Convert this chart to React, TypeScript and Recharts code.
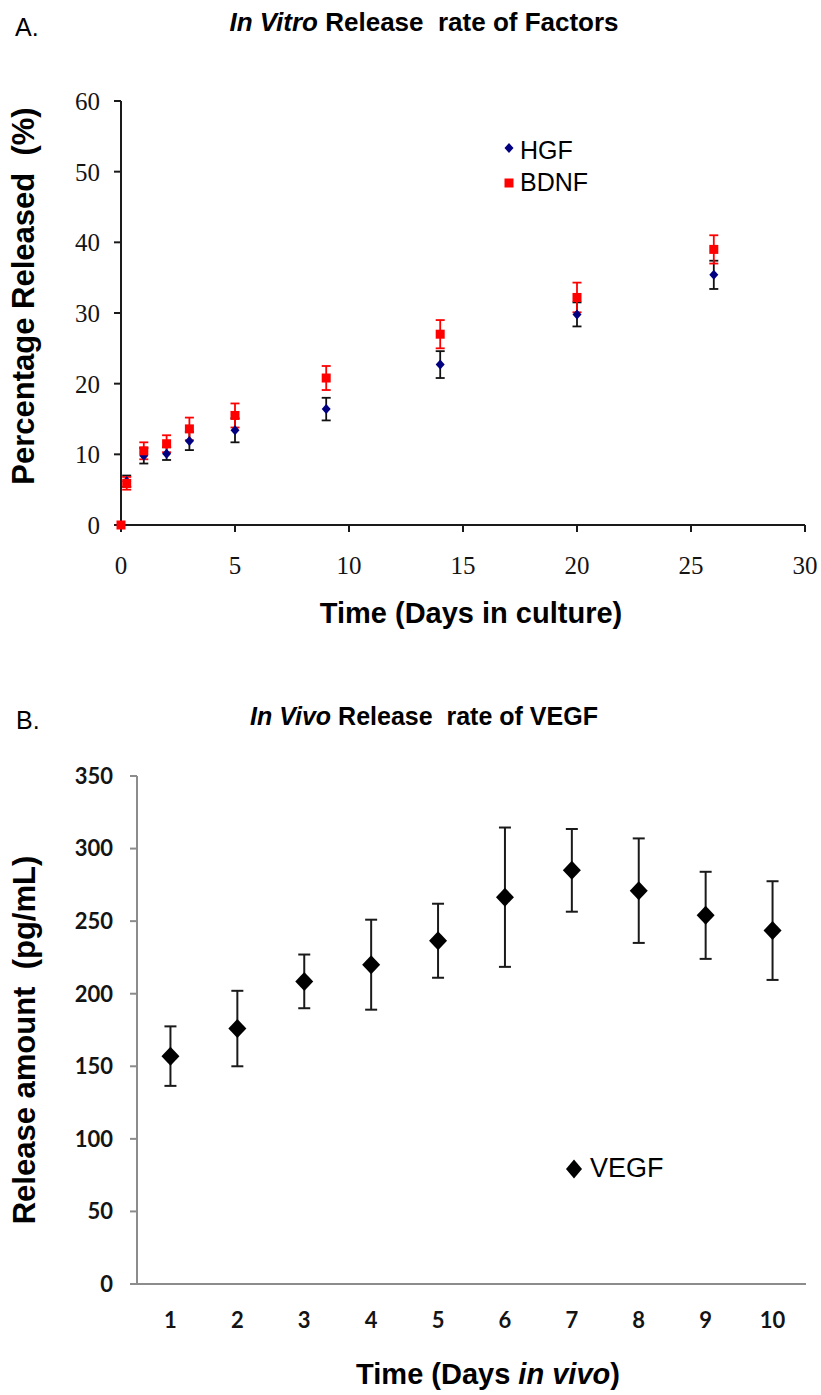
import React from 'react';
import { ScatterChart, Scatter, XAxis, YAxis, ErrorBar } from 'recharts';

// ---- Panel A: In Vitro release ----
const daysA = [0, 0.25, 1, 2, 3, 5, 9, 14, 20, 26];
const hgfValues = [0, 6.2, 9.8, 10.1, 11.9, 13.4, 16.4, 22.7, 29.8, 35.4];
const hgfErrors = [0, 0.8, 1.1, 0.9, 1.3, 1.7, 1.6, 1.9, 1.7, 2.0];
const bdnfValues = [0, 5.9, 10.5, 11.5, 13.6, 15.5, 20.8, 27.0, 32.2, 39.0];
const bdnfErrors = [0, 0.9, 1.2, 1.2, 1.6, 1.7, 1.7, 2.0, 2.1, 2.0];
const ticksAX = [0, 5, 10, 15, 20, 25, 30];
const ticksAY = [0, 10, 20, 30, 40, 50, 60];

// ---- Panel B: In Vivo release of VEGF ----
const daysB = [1, 2, 3, 4, 5, 6, 7, 8, 9, 10];
const vegfValues = [157, 176, 208.5, 220, 236.5, 266.5, 285, 271, 254, 243.5];
const vegfErrors = [20.5, 26, 18.5, 31, 25.5, 48, 28.5, 36, 30, 34];
const ticksBBoundaries = [0.5, 1.5, 2.5, 3.5, 4.5, 5.5, 6.5, 7.5, 8.5, 9.5, 10.5];
const ticksBLabels = [1, 2, 3, 4, 5, 6, 7, 8, 9, 10];
const ticksBY = [0, 50, 100, 150, 200, 250, 300, 350];

const hgfData = daysA.map((x, i) => ({ x, y: hgfValues[i], err: hgfErrors[i] }));
const bdnfData = daysA.map((x, i) => ({ x, y: bdnfValues[i], err: bdnfErrors[i] }));
const vegfData = daysB.map((x, i) => ({ x, y: vegfValues[i], err: vegfErrors[i] }));

const SANS = '"Liberation Sans", Arial, sans-serif';
const SERIF = '"Liberation Serif", "Times New Roman", serif';
const CAL = 'Lato, "Open Sans", sans-serif';

const HgfShape = (p: any) => {
  const { cx, cy } = p;
  if (cx == null || cy == null) return null;
  return (
    <polygon
      points={`${cx},${cy - 5} ${cx + 4.5},${cy} ${cx},${cy + 5} ${cx - 4.5},${cy}`}
      fill="#000080"
    />
  );
};

const BdnfShape = (p: any) => {
  const { cx, cy } = p;
  if (cx == null || cy == null) return null;
  return <rect x={cx - 4.5} y={cy - 4.5} width={9} height={9} fill="#ff0000" />;
};

const VegfShape = (p: any) => {
  const { cx, cy } = p;
  if (cx == null || cy == null) return null;
  return (
    <polygon
      points={`${cx},${cy - 9.5} ${cx + 9},${cy} ${cx},${cy + 9.5} ${cx - 9},${cy}`}
      fill="#000"
    />
  );
};

type TxtProps = {
  x: number;
  y: number;
  size: number;
  bold?: boolean;
  rotate?: boolean;
  anchor?: 'center' | 'left';
  children: React.ReactNode;
};

const Txt = ({ x, y, size, bold, rotate, anchor = 'center', children }: TxtProps) => (
  <div
    style={{
      position: 'absolute',
      left: x,
      top: y,
      transform: `translate(${anchor === 'center' ? '-50%' : '0'}, -50%)${rotate ? ' rotate(-90deg)' : ''}`,
      fontFamily: SANS,
      fontSize: size,
      fontWeight: bold ? 700 : 400,
      lineHeight: 1,
      whiteSpace: 'nowrap',
      color: '#000',
    }}
  >
    {children}
  </div>
);

export default function App() {
  return (
    <div
      style={{
        position: 'absolute',
        left: 0,
        top: 0,
        width: 821,
        height: 1395,
        background: '#fff',
        overflow: 'hidden',
      }}
    >
      {/* Panel A */}
      <div style={{ position: 'absolute', left: 0, top: 0 }}>
        <ScatterChart width={821} height={650} margin={{ top: 101, right: 16, bottom: 75, left: 0 }}>
          <XAxis
            type="number"
            dataKey="x"
            domain={[0, 30]}
            ticks={ticksAX}
            interval={0}
            height={50}
            tickSize={7}
            tickMargin={24}
            axisLine={{ stroke: '#1a1a1a', strokeWidth: 2 }}
            tickLine={{ stroke: '#1a1a1a', strokeWidth: 2 }}
            tick={{ fontFamily: SERIF, fontSize: 25, fill: '#141414' }}
          />
          <YAxis
            type="number"
            dataKey="y"
            domain={[0, 60]}
            ticks={ticksAY}
            interval={0}
            width={121}
            tickSize={7}
            tickMargin={14}
            axisLine={{ stroke: '#1a1a1a', strokeWidth: 2 }}
            tickLine={{ stroke: '#1a1a1a', strokeWidth: 2 }}
            tick={{ fontFamily: SERIF, fontSize: 25, fill: '#141414' }}
          />
          <Scatter name="HGF" data={hgfData} shape={HgfShape} isAnimationActive={false}>
            <ErrorBar dataKey="err" direction="y" width={4.5} stroke="#111" strokeWidth={1.8} />
          </Scatter>
          <Scatter name="BDNF" data={bdnfData} shape={BdnfShape} isAnimationActive={false}>
            <ErrorBar dataKey="err" direction="y" width={4.5} stroke="#ff0000" strokeWidth={1.8} />
          </Scatter>
        </ScatterChart>
      </div>

      <Txt x={15} y={27} size={25} anchor="left">A.</Txt>
      <Txt x={424} y={22} size={26} bold>
        <i>In Vitro</i> Release&nbsp; rate of Factors
      </Txt>
      <Txt x={23} y={296} size={31} bold rotate>
        Percentage Released&nbsp; (%)
      </Txt>
      <Txt x={471} y={613} size={29} bold>
        Time (Days in culture)
      </Txt>

      {/* Legend A */}
      <svg style={{ position: 'absolute', left: 500, top: 138 }} width={20} height={55}>
        <polygon points="9,5 13.5,10 9,15 4.5,10" fill="#000080" />
        <rect x={4.5} y={40.5} width={9} height={9} fill="#ff0000" />
      </svg>
      <Txt x={520} y={150} size={25} anchor="left">HGF</Txt>
      <Txt x={520} y={182} size={25} anchor="left">BDNF</Txt>

      {/* Panel B */}
      <div style={{ position: 'absolute', left: 0, top: 650 }}>
        <ScatterChart width={821} height={745} margin={{ top: 126, right: 15, bottom: 63, left: 0 }}>
          <XAxis
            xAxisId="bounds"
            type="number"
            dataKey="x"
            domain={[0.5, 10.5]}
            allowDataOverflow
            ticks={ticksBBoundaries}
            interval={0}
            height={8}
            tickSize={7}
            tick={false}
            axisLine={{ stroke: '#8c8c8c', strokeWidth: 2 }}
            tickLine={{ stroke: '#8c8c8c', strokeWidth: 2 }}
          />
          <XAxis
            xAxisId="labels"
            type="number"
            dataKey="x"
            domain={[0.5, 10.5]}
            allowDataOverflow
            ticks={ticksBLabels}
            interval={0}
            height={40}
            tickSize={0}
            tickMargin={20}
            axisLine={false}
            tickLine={false}
            tick={{ fontFamily: CAL, fontSize: 22, fontWeight: 700, fill: '#141414' }}
          />
          <YAxis
            type="number"
            dataKey="y"
            domain={[0, 350]}
            ticks={ticksBY}
            interval={0}
            width={137}
            tickSize={7}
            tickMargin={17}
            axisLine={{ stroke: '#8c8c8c', strokeWidth: 2 }}
            tickLine={{ stroke: '#8c8c8c', strokeWidth: 2 }}
            tick={{ fontFamily: CAL, fontSize: 22, fontWeight: 700, fill: '#141414' }}
          />
          <Scatter
            name="VEGF"
            xAxisId="bounds"
            data={vegfData}
            shape={VegfShape}
            isAnimationActive={false}
          >
            <ErrorBar dataKey="err" direction="y" width={6} stroke="#1a1a1a" strokeWidth={2} />
          </Scatter>
        </ScatterChart>
      </div>

      <Txt x={16} y={720} size={25} anchor="left">B.</Txt>
      <Txt x={424} y={716} size={25} bold>
        <i>In Vivo</i> Release&nbsp; rate of VEGF
      </Txt>
      <Txt x={24} y={1040} size={31} bold rotate>
        Release amount&nbsp; (pg/mL)
      </Txt>
      <Txt x={488} y={1374} size={29} bold>
        Time (Days <i>in vivo</i>)
      </Txt>

      {/* Legend B */}
      <svg style={{ position: 'absolute', left: 563, top: 1158 }} width={22} height={22}>
        <polygon points="11,1.5 19,11 11,20.5 3,11" fill="#000" />
      </svg>
      <Txt x={590} y={1168} size={27} anchor="left">VEGF</Txt>
    </div>
  );
}
